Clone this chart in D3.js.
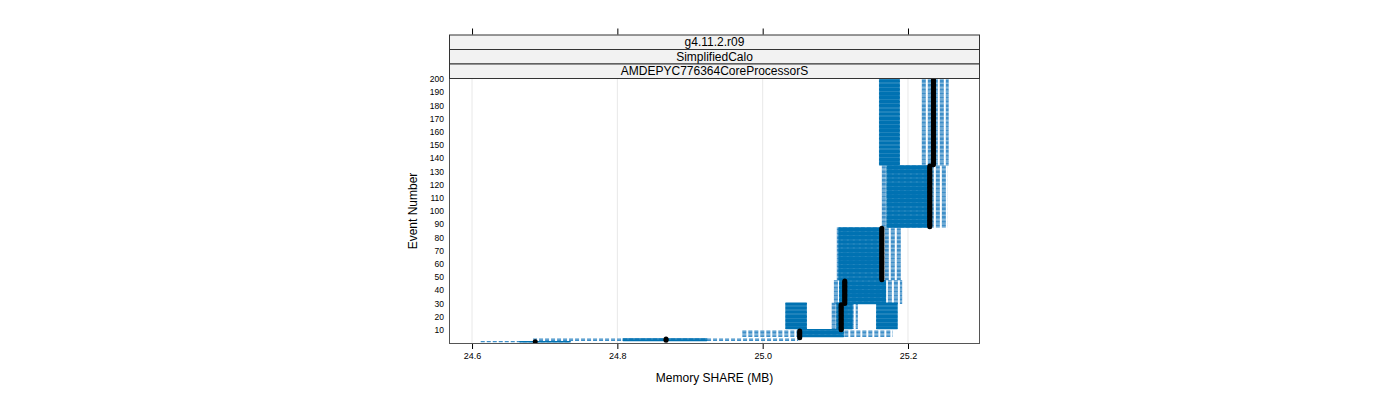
<!DOCTYPE html>
<html>
<head>
<meta charset="utf-8">
<script src="https://cdn.jsdelivr.net/npm/d3@7"></script>
<style>
  body { margin: 0; background: #fff; }
  svg { display: block; font-family: "Liberation Sans", Arial, sans-serif; }
</style>
</head>
<body>
<svg id="chart" width="1400" height="400"></svg>
<script>
// 1] data ----------------------------------------------//
const strips = ["g4.11.2.r09", "SimplifiedCalo", "AMDEPYC776364CoreProcessorS"];
const memTicks = [24.6, 24.8, 25.0, 25.2];
const eventTicks = [10, 20, 30, 40, 50, 60, 70, 80, 90, 100, 110, 120, 130, 140, 150, 160, 170, 180, 190, 200];

// black points : event range -> memory
const medFrom = [1, 2, 4, 10, 30, 48, 88, 135];
const medTo   = [1, 3, 9, 29, 47, 87, 134, 200];
const medMem  = [24.687, 24.867, 25.051, 25.108, 25.113, 25.164, 25.230, 25.235];

// solid blue ranges : event range -> [lo, hi]
const boxFrom = [1, 2, 5, 11, 11, 11, 30, 48, 88, 135];
const boxTo   = [1, 3, 10, 30, 30, 30, 47, 87, 134, 200];
const boxLo   = [24.666, 24.808, 25.049, 25.032, 25.102, 25.157, 25.106, 25.105, 25.171, 25.161];
const boxHi   = [24.735, 24.923, 25.111, 25.060, 25.123, 25.185, 25.169, 25.164, 25.230, 25.188];

// dashed light blue ranges : event range -> [lo, hi]
const whiskFrom = [1, 2, 5, 11, 30, 48, 88, 135];
const whiskTo   = [1, 3, 9, 30, 47, 87, 134, 200];
const whiskLo   = [24.612, 24.684, 24.972, 25.095, 25.098, 25.102, 25.164, 25.219];
const whiskHi   = [24.735, 25.049, 25.179, 25.131, 25.192, 25.192, 25.255, 25.256];

// expand event ranges into one row per event
const rows = (from, to, lo, hi) => from.flatMap((f, i) =>
  d3.range(f, to[i] + 1).map(e => ({ event: e, lo: lo[i], hi: hi[i] })))
const points = medFrom.flatMap((f, i) =>
  d3.range(f, medTo[i] + 1).map(e => ({ event: e, mem: medMem[i] })))

// 2] layout --------------------------------------------//
const pLeft = 449, pRight = 980, pTop = 78, pBottom = 344;
const stripH = 14.5;
const svg = d3.select("#chart");

const xScale = d3.scaleLinear().domain([24.5683, 25.2991]).range([pLeft, pRight]);
const yScale = d3.scaleLinear().domain([0, 200]).range([343, 79]);

// 3] grid + clip ---------------------------------------//
svg.append("clipPath").attr("id", "panel")
  .append("rect").attr("x", pLeft).attr("y", pTop)
  .attr("width", pRight - pLeft).attr("height", pBottom - pTop);

svg.append("g").selectAll("line").data(memTicks).join("line")
  .attr("x1", d => xScale(d)).attr("x2", d => xScale(d))
  .attr("y1", pTop).attr("y2", pBottom)
  .attr("stroke", "#e8e8e8").attr("stroke-width", 1);

const plot = svg.append("g").attr("clip-path", "url(#panel)");

// 4] draw marks ----------------------------------------//
plot.append("g").selectAll("line").data(rows(whiskFrom, whiskTo, whiskLo, whiskHi)).join("line")
  .attr("x1", d => xScale(d.lo)).attr("x2", d => xScale(d.hi))
  .attr("y1", d => yScale(d.event)).attr("y2", d => yScale(d.event))
  .attr("stroke", "#3f8fc8").attr("stroke-width", 1.2)
  .style("stroke-dasharray", "4,2");

plot.append("g").selectAll("line").data(rows(boxFrom, boxTo, boxLo, boxHi)).join("line")
  .attr("x1", d => xScale(d.lo)).attr("x2", d => xScale(d.hi))
  .attr("y1", d => yScale(d.event)).attr("y2", d => yScale(d.event))
  .attr("stroke", "#0072B2").attr("stroke-width", 1.6)
  .style("stroke-linecap", "round");

plot.append("g").selectAll("circle").data(points).join("circle")
  .attr("cx", d => xScale(d.mem)).attr("cy", d => yScale(d.event))
  .attr("r", 2.5).attr("fill", "#000");

// 5] panel border + strips -----------------------------//
svg.append("rect").attr("x", pLeft + 0.5).attr("y", pTop + 0.5)
  .attr("width", pRight - pLeft - 1).attr("height", pBottom - pTop - 1)
  .attr("fill", "none").attr("stroke", "#555");

const strip = svg.append("g").selectAll("g").data(strips).join("g")
  .attr("transform", (d, i) => `translate(0,${pTop - stripH * (strips.length - i)})`);
strip.append("rect").attr("x", pLeft + 0.5).attr("y", 0.5)
  .attr("width", pRight - pLeft - 1).attr("height", stripH)
  .attr("fill", "#f2f2f2").attr("stroke", "#333");
strip.append("text").attr("x", (pLeft + pRight) / 2).attr("y", stripH / 2 + 4.5)
  .attr("text-anchor", "middle").attr("font-size", 12).text(d => d);

// 6] axes ----------------------------------------------//
const xAxis = d3.axisBottom(xScale).tickValues(memTicks).tickFormat(d3.format(".1f"))
  .tickSize(5).tickPadding(4);
svg.append("g").attr("transform", `translate(0,${pBottom})`).call(xAxis)
  .call(g => g.select(".domain").remove())
  .call(g => g.selectAll("text").attr("font-size", 9).attr("font-family", null));

const topAxis = d3.axisTop(xScale).tickValues(memTicks).tickSize(6).tickFormat("");
svg.append("g").attr("transform", `translate(0,${pTop - stripH * strips.length})`).call(topAxis)
  .call(g => g.select(".domain").remove());

const yAxis = d3.axisLeft(yScale).tickValues(eventTicks).tickSize(0).tickPadding(5);
svg.append("g").attr("transform", `translate(${pLeft},0)`).call(yAxis)
  .call(g => g.select(".domain").remove())
  .call(g => g.selectAll("text").attr("font-size", 8.5).attr("font-family", null));

// 7] titles --------------------------------------------//
svg.append("text").attr("x", (pLeft + pRight) / 2).attr("y", 382)
  .attr("text-anchor", "middle").attr("font-size", 12).text("Memory SHARE (MB)");
svg.append("text").attr("transform", `translate(417,${(pTop + pBottom) / 2}) rotate(-90)`)
  .attr("text-anchor", "middle").attr("font-size", 12).text("Event Number");
</script>
</body>
</html>
